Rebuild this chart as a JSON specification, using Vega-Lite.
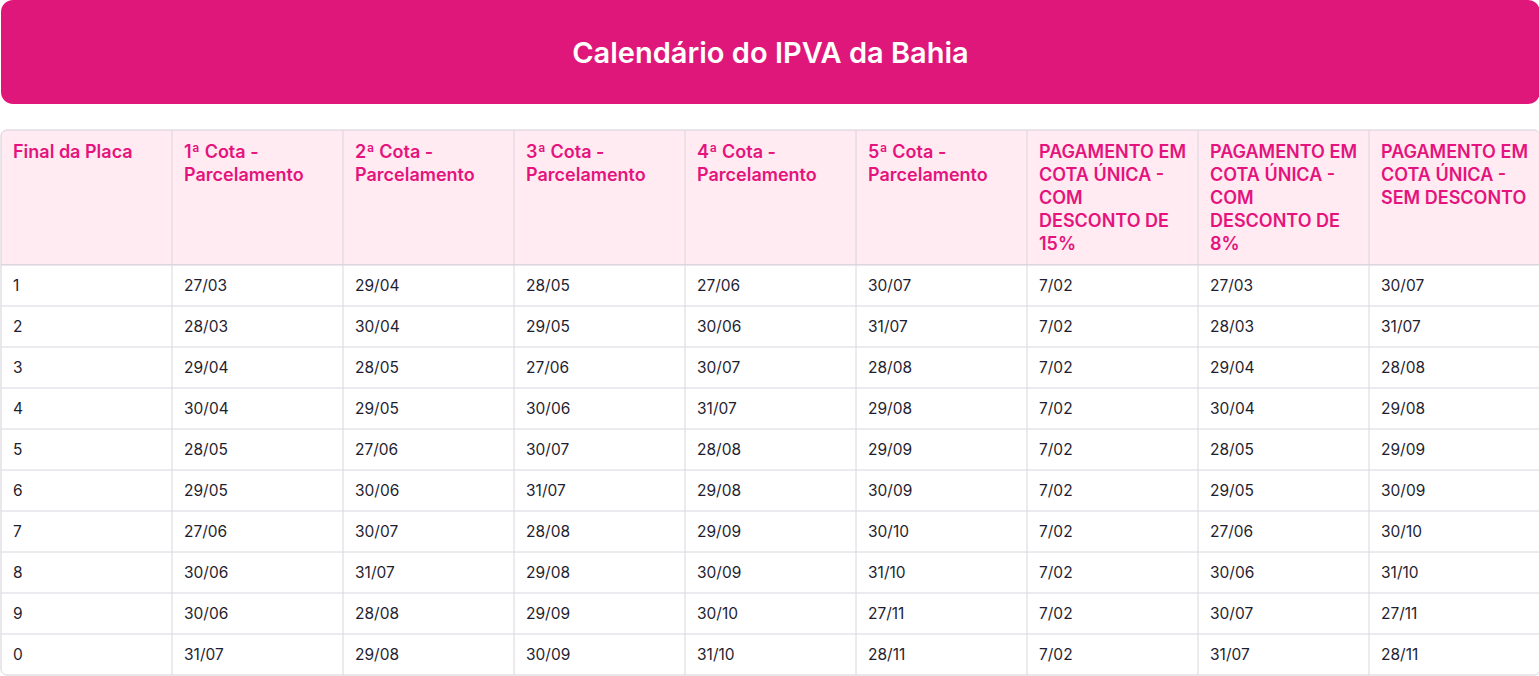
{
  "$schema": "https://vega.github.io/schema/vega-lite/v6.json",
  "padding": 0,
  "background": "white",
  "config": {"view": {"stroke": null}, "font": "Inter"},
  "datasets": {
    "cols": [
      {"col": "placa", "label": "Final da Placa"},
      {"col": "c1", "label": "1ª Cota -\nParcelamento"},
      {"col": "c2", "label": "2ª Cota -\nParcelamento"},
      {"col": "c3", "label": "3ª Cota -\nParcelamento"},
      {"col": "c4", "label": "4ª Cota -\nParcelamento"},
      {"col": "c5", "label": "5ª Cota -\nParcelamento"},
      {"col": "u15", "label": "PAGAMENTO EM\nCOTA ÚNICA -\nCOM\nDESCONTO DE\n15%"},
      {"col": "u8", "label": "PAGAMENTO EM\nCOTA ÚNICA -\nCOM\nDESCONTO DE\n8%"},
      {"col": "u0", "label": "PAGAMENTO EM\nCOTA ÚNICA -\nSEM DESCONTO"}
    ],
    "rows": [
      {"placa": "1", "c1": "27/03", "c2": "29/04", "c3": "28/05", "c4": "27/06", "c5": "30/07", "u15": "7/02", "u8": "27/03", "u0": "30/07"},
      {"placa": "2", "c1": "28/03", "c2": "30/04", "c3": "29/05", "c4": "30/06", "c5": "31/07", "u15": "7/02", "u8": "28/03", "u0": "31/07"},
      {"placa": "3", "c1": "29/04", "c2": "28/05", "c3": "27/06", "c4": "30/07", "c5": "28/08", "u15": "7/02", "u8": "29/04", "u0": "28/08"},
      {"placa": "4", "c1": "30/04", "c2": "29/05", "c3": "30/06", "c4": "31/07", "c5": "29/08", "u15": "7/02", "u8": "30/04", "u0": "29/08"},
      {"placa": "5", "c1": "28/05", "c2": "27/06", "c3": "30/07", "c4": "28/08", "c5": "29/09", "u15": "7/02", "u8": "28/05", "u0": "29/09"},
      {"placa": "6", "c1": "29/05", "c2": "30/06", "c3": "31/07", "c4": "29/08", "c5": "30/09", "u15": "7/02", "u8": "29/05", "u0": "30/09"},
      {"placa": "7", "c1": "27/06", "c2": "30/07", "c3": "28/08", "c4": "29/09", "c5": "30/10", "u15": "7/02", "u8": "27/06", "u0": "30/10"},
      {"placa": "8", "c1": "30/06", "c2": "31/07", "c3": "29/08", "c4": "30/09", "c5": "31/10", "u15": "7/02", "u8": "30/06", "u0": "31/10"},
      {"placa": "9", "c1": "30/06", "c2": "28/08", "c3": "29/09", "c4": "30/10", "c5": "27/11", "u15": "7/02", "u8": "30/07", "u0": "27/11"},
      {"placa": "0", "c1": "31/07", "c2": "29/08", "c3": "30/09", "c4": "31/10", "c5": "28/11", "u15": "7/02", "u8": "31/07", "u0": "28/11"}
    ]
  },
  "vconcat": [
    {
      "width": 1539,
      "height": 104,
      "view": {"fill": "#E0177A", "cornerRadius": 12, "stroke": null},
      "data": {"values": [{"titulo": "Calendário do IPVA da Bahia"}]},
      "mark": {"type": "text", "color": "white", "fontSize": 29, "fontWeight": 600, "align": "center", "baseline": "middle", "dy": 2, "font": "Inter"},
      "encoding": {"text": {"field": "titulo", "type": "nominal"}}
    },
    {
      "bounds": "flush",
      "spacing": 0,
      "vconcat": [
        {
          "width": 1539,
          "height": 135,
          "layer": [
            {
              "data": {"values": [{}]},
              "mark": {"type": "rect", "fill": "#FFEBF1", "stroke": "#D3CFD8", "strokeWidth": 1, "cornerRadiusTopLeft": 6, "cornerRadiusTopRight": 6},
              "encoding": {}
            },
            {
              "data": {"name": "cols"},
              "transform": [{"filter": "datum.col != 'placa'"}],
              "mark": {"type": "rule", "color": "#DAD6DF", "strokeWidth": 1},
              "encoding": {
                "x": {"field": "col", "type": "nominal", "bandPosition": 0,
                      "scale": {"type": "band", "domain": ["placa", "c1", "c2", "c3", "c4", "c5", "u15", "u8", "u0"], "paddingInner": 0, "paddingOuter": 0},
                      "axis": null}
              }
            },
            {
              "data": {"name": "cols"},
              "mark": {"type": "text", "align": "left", "baseline": "alphabetic", "dx": 12, "dy": -39.5, "lineBreak": "\n", "lineHeight": 23, "fontSize": 18, "fontWeight": 600, "color": "#E5137D", "font": "Inter"},
              "encoding": {
                "x": {"field": "col", "type": "nominal", "bandPosition": 0,
                      "scale": {"type": "band", "domain": ["placa", "c1", "c2", "c3", "c4", "c5", "u15", "u8", "u0"], "paddingInner": 0, "paddingOuter": 0},
                      "axis": null},
                "text": {"field": "label", "type": "nominal"}
              }
            }
          ]
        },
        {
          "width": 1539,
          "height": 410,
          "layer": [
            {
              "data": {"values": [{}]},
              "mark": {"type": "rect", "fill": "white", "stroke": "#D3CFD8", "strokeWidth": 1, "cornerRadiusBottomLeft": 6, "cornerRadiusBottomRight": 6},
              "encoding": {}
            },
            {
              "data": {"name": "rows"},
              "transform": [{"filter": "datum.placa != '1'"}],
              "mark": {"type": "rule", "color": "#DAD6DF", "strokeWidth": 1},
              "encoding": {
                "y": {"field": "placa", "type": "nominal", "bandPosition": 0,
                      "scale": {"type": "band", "domain": ["1", "2", "3", "4", "5", "6", "7", "8", "9", "0"], "paddingInner": 0, "paddingOuter": 0},
                      "axis": null}
              }
            },
            {
              "data": {"name": "cols"},
              "transform": [{"filter": "datum.col != 'placa'"}],
              "mark": {"type": "rule", "color": "#DAD6DF", "strokeWidth": 1},
              "encoding": {
                "x": {"field": "col", "type": "nominal", "bandPosition": 0,
                      "scale": {"type": "band", "domain": ["placa", "c1", "c2", "c3", "c4", "c5", "u15", "u8", "u0"], "paddingInner": 0, "paddingOuter": 0},
                      "axis": null}
              }
            },
            {
              "data": {"name": "rows"},
              "transform": [{"fold": ["placa", "c1", "c2", "c3", "c4", "c5", "u15", "u8", "u0"], "as": ["col", "valor"]}],
              "mark": {"type": "text", "align": "left", "baseline": "middle", "dx": 12, "fontSize": 15.5, "fontWeight": 400, "color": "#1F1E30", "font": "Inter"},
              "encoding": {
                "x": {"field": "col", "type": "nominal", "bandPosition": 0,
                      "scale": {"type": "band", "domain": ["placa", "c1", "c2", "c3", "c4", "c5", "u15", "u8", "u0"], "paddingInner": 0, "paddingOuter": 0},
                      "axis": null},
                "y": {"field": "placa", "type": "nominal", "bandPosition": 0.5,
                      "scale": {"type": "band", "domain": ["1", "2", "3", "4", "5", "6", "7", "8", "9", "0"], "paddingInner": 0, "paddingOuter": 0},
                      "axis": null},
                "text": {"field": "valor", "type": "nominal"}
              }
            }
          ]
        }
      ]
    }
  ],
  "spacing": 26,
  "bounds": "flush"
}
